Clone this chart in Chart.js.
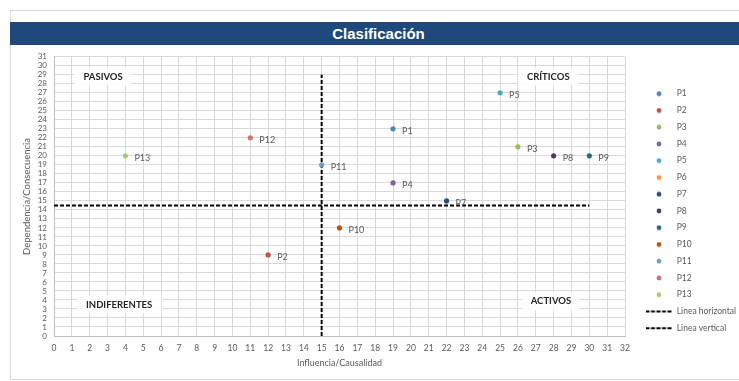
<!DOCTYPE html>
<html>
<head>
<meta charset="utf-8">
<script src="https://cdn.jsdelivr.net/npm/chart.js@4"></script>
<style>
  html, body { margin: 0; padding: 0; background: #fff; width: 739px; height: 381px; overflow: hidden; }
  #frame { position: absolute; left: 10px; top: 10px; width: 740px; height: 370px; border: 1px solid #d9d9d9; box-sizing: border-box; background: #fff; }
  #bar { position: absolute; left: 10px; top: 22px; width: 729px; height: 23px; background: #1f497d; color: #fff;
         font: bold 15px "Liberation Sans", Arial, sans-serif; line-height: 23px; text-align: center; padding-left: 8px; box-sizing: border-box; }
  #wrap { position: absolute; left: 10px; top: 45px; width: 729px; height: 336px; }
</style>
</head>
<body>
<div id="frame"></div>
<div id="bar">Clasificación</div>
<div id="wrap"><canvas id="c" width="729" height="336"></canvas></div>
<script>
// Variables: influence (x) and dependence (y)
const categories = ['P1', 'P2', 'P3', 'P4', 'P5', 'P6', 'P7', 'P8', 'P9', 'P10', 'P11', 'P12', 'P13'];
const influencia = [19, 12, 26, 19, 25, 27, 22, 28, 30, 16, 15, 11, 4];
const dependencia = [23, 9, 21, 17, 27, 29, 15, 20, 20, 12, 19, 22, 20];

// Quadrant dividers
const lineaHorizontalX = [0, 30];
const lineaHorizontalY = [14.5, 14.5];
const lineaVerticalX = [15, 15];
const lineaVerticalY = [0, 29];

// Axis ranges
const xMax = 32;
const yMax = 31;

// Quadrant names
const cuadranteNombres = ['PASIVOS', 'CRÍTICOS', 'INDIFERENTES', 'ACTIVOS'];

// Styling
const colores = ['#4f81bd', '#c0504d', '#9bbb59', '#8064a2', '#4bacc6', '#f79646', '#2c4d75',
                 '#4d3b62', '#276a7c', '#b65708', '#729aca', '#cd7371', '#afc97a'];
const cuadranteAnclas = [[2.75, 28.8], [27.7, 28.8], [3.65, 3.5], [27.85, 3.85]];
const gris = '#595959';
const rejilla = '#d9d9d9';

Chart.defaults.font.family = "Lato, 'Liberation Sans', sans-serif";

function toPoints(xs, ys) { return xs.map((x, i) => ({ x: x, y: ys[i] })); }

const datasets = categories.map((name, i) => ({
  label: name,
  data: [{ x: influencia[i], y: dependencia[i] }],
  backgroundColor: colores[i],
  borderColor: colores[i],
  pointRadius: 2.6,
  pointBorderWidth: 0,
  pointHoverRadius: 2.6
}));
datasets.push({
  label: 'Linea horizontal',
  data: toPoints(lineaHorizontalX, lineaHorizontalY),
  showLine: true, borderColor: '#000', backgroundColor: '#000', borderWidth: 2, borderDash: [4, 2], pointRadius: 0
});
datasets.push({
  label: 'Linea vertical',
  data: toPoints(lineaVerticalX, lineaVerticalY),
  showLine: true, borderColor: '#000', backgroundColor: '#000', borderWidth: 2, borderDash: [4, 2], pointRadius: 0
});

// Small legend symbols: a dot for each variable, a dashed stroke for the dividers
function dotSymbol(color) {
  const c = document.createElement('canvas');
  c.width = 6; c.height = 6;
  const g = c.getContext('2d');
  g.fillStyle = color;
  g.beginPath(); g.arc(3, 3, 2.4, 0, Math.PI * 2); g.fill();
  return c;
}
function dashSymbol() {
  const c = document.createElement('canvas');
  c.width = 27; c.height = 4;
  const g = c.getContext('2d');
  g.strokeStyle = '#000'; g.lineWidth = 2; g.setLineDash([4, 1.5]);
  g.beginPath(); g.moveTo(0, 2); g.lineTo(27, 2); g.stroke();
  return c;
}

const legendShift = {
  id: 'legendShift',
  afterLayout(chart) {
    const lg = chart.legend;
    const pad = lg.options.labels.padding;
    const w = lg.right - lg.left;
    lg.left = 635.5 - pad; lg.right = lg.left + w;
    lg.top = 44.5 - pad; lg.bottom = chart.height;
  }
};

const etiquetas = {
  id: 'etiquetas',
  afterDatasetsDraw(chart) {
    const ctx = chart.ctx;
    ctx.save();
    ctx.font = "9px Lato, 'Liberation Sans', sans-serif";
    ctx.fillStyle = gris;
    ctx.textBaseline = 'middle';
    ctx.textAlign = 'left';
    categories.forEach((name, i) => {
      const pt = chart.getDatasetMeta(i).data[0];
      ctx.fillText(name, pt.x + 9, pt.y + 2);
    });
    const sx = chart.scales.x, sy = chart.scales.y;
    ctx.font = "bold 9.5px Lato, 'Liberation Sans', sans-serif";
    ctx.textAlign = 'center';
    cuadranteNombres.forEach((t, i) => {
      const x = sx.getPixelForValue(cuadranteAnclas[i][0]);
      const y = sy.getPixelForValue(cuadranteAnclas[i][1]);
      const w = ctx.measureText(t).width;
      ctx.fillStyle = 'rgba(255,255,255,0.85)';
      ctx.fillRect(x - w / 2 - 9, y - 9, w + 18, 18);
      ctx.fillStyle = '#262626';
      ctx.fillText(t, x, y);
    });
    ctx.restore();
  }
};

new Chart(document.getElementById('c'), {
  type: 'scatter',
  data: { datasets: datasets },
  plugins: [legendShift, etiquetas],
  options: {
    responsive: false,
    animation: false,
    events: [],
    layout: { padding: { left: 0, right: 14, top: 9, bottom: 0 } },
    plugins: {
      title: { display: false },
      tooltip: { enabled: false },
      legend: {
        position: 'right',
        align: 'start',
        maxWidth: 100,
        labels: {
          usePointStyle: true,
          pointStyleWidth: 27,
          padding: 8.25,
          color: gris,
          font: { size: 8.5 },
          generateLabels(chart) {
            const items = Chart.defaults.plugins.legend.labels.generateLabels(chart);
            items.forEach((it, i) => {
              it.pointStyle = i < categories.length ? dotSymbol(colores[i]) : dashSymbol();
            });
            return items;
          }
        }
      }
    },
    scales: {
      x: {
        type: 'linear', min: 0, max: xMax, position: 'bottom',
        ticks: { stepSize: 1, autoSkip: false, maxRotation: 0, color: gris, font: { size: 8.5 }, padding: 7 },
        grid: { color: rejilla, drawTicks: false },
        border: { color: '#bfbfbf' },
        title: { display: true, text: 'Influencia/Causalidad', color: gris, font: { size: 9 }, padding: { top: 4, bottom: 12.6 } },
        afterFit(s) { s.height = 45; }
      },
      y: {
        type: 'linear', min: 0, max: yMax,
        ticks: { stepSize: 1, autoSkip: false, color: gris, font: { size: 8 }, padding: 7 },
        grid: { color: rejilla, drawTicks: false },
        border: { color: '#bfbfbf' },
        title: { display: true, text: 'Dependencia/Consecuencia', color: gris, font: { size: 9.5 }, padding: { top: 11.3, bottom: 2 } },
        afterFit(s) { s.width = 44; }
      }
    }
  }
});
</script>
</body>
</html>
